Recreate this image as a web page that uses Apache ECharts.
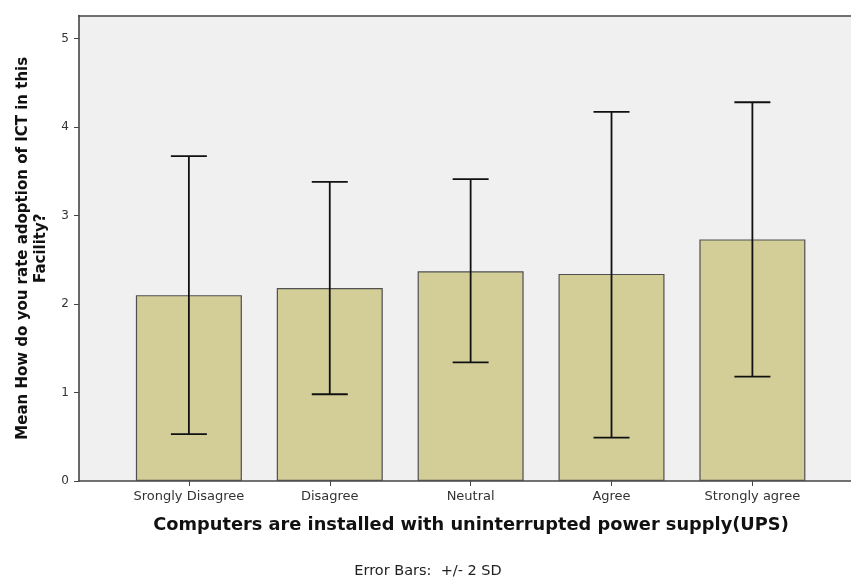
<!DOCTYPE html>
<html>
<head>
<meta charset="utf-8">
<script src="https://cdn.jsdelivr.net/npm/echarts@6/dist/echarts.min.js"></script>
<style>
html,body{margin:0;padding:0;background:#fff;}
#chart{width:851px;height:577px;}
</style>
</head>
<body>
<div id="chart"></div>
<script>
const categories = ['Srongly Disagree', 'Disagree', 'Neutral', 'Agree', 'Strongly agree'];
const means = [2.10, 2.18, 2.37, 2.34, 2.73];
const lowerBars = [0.53, 0.98, 1.34, 0.49, 1.18];
const upperBars = [3.67, 3.38, 3.41, 4.17, 4.28];
const yTicks = [0, 1, 2, 3, 4, 5];
const xPositions = [1, 2, 3, 4, 5];

const barData = xPositions.map((p, i) => [p, means[i]]);
const errData = xPositions.map((p, i) => [p, lowerBars[i], upperBars[i]]);

const chart = echarts.init(document.getElementById('chart'), null, {renderer: 'canvas'});
const axisColor = '#454545';
const fontFam = '"DejaVu Sans", Verdana, sans-serif';

chart.setOption({
  animation: false,
  backgroundColor: '#ffffff',
  grid: {
    left: 79, right: 0, top: 15.5, bottom: 96,
    show: true, backgroundColor: '#f0f0f0', borderWidth: 0
  },
  xAxis: [{
    type: 'value',
    min: 0.22, max: 5.7,
    name: 'Computers are installed with uninterrupted power supply(UPS)',
    nameLocation: 'middle',
    nameGap: 35,
    nameTextStyle: {fontFamily: fontFam, fontSize: 17.8, fontWeight: 'bold', color: '#111', padding: [0, 0, 0, 12]},
    axisLine: {show: true, lineStyle: {color: axisColor, width: 1.6}},
    axisTick: {show: true, length: 5, customValues: xPositions, lineStyle: {color: axisColor, width: 1}},
    axisLabel: {
      customValues: xPositions,
      margin: 9,
      fontFamily: fontFam, fontSize: 13, color: '#333',
      formatter: v => categories[Math.round(v) - 1] || ''
    },
    splitLine: {show: false}
  }, {
    type: 'value',
    position: 'top',
    min: 0.22, max: 5.7,
    axisLine: {show: true, onZero: false, lineStyle: {color: axisColor, width: 1.6}},
    axisTick: {show: false},
    axisLabel: {show: false},
    splitLine: {show: false}
  }],
  yAxis: {
    type: 'value',
    min: 0, max: 5.26,
    name: 'Mean How do you rate adoption of ICT in this\nFacility?',
    nameLocation: 'middle',
    nameGap: 29,
    nameTextStyle: {fontFamily: fontFam, fontSize: 15, fontWeight: 'bold', color: '#111', lineHeight: 18, align: 'center'},
    axisLine: {show: true, lineStyle: {color: axisColor, width: 1.6}},
    axisTick: {show: true, length: 5, customValues: yTicks, lineStyle: {color: axisColor, width: 1}},
    axisLabel: {customValues: yTicks, margin: 10, fontFamily: fontFam, fontSize: 12, color: '#333'},
    splitLine: {show: false}
  },
  series: [{
    type: 'bar',
    data: barData,
    barWidth: 106,
    itemStyle: {color: '#d3ce98', borderColor: '#505050', borderWidth: 1.2},
    z: 2
  }, {
    type: 'custom',
    data: errData,
    z: 3,
    renderItem: function (params, api) {
      const x = api.value(0);
      const lo = api.coord([x, api.value(1)]);
      const hi = api.coord([x, api.value(2)]);
      const half = 18;
      const style = {stroke: '#111', lineWidth: 1.8};
      return {
        type: 'group',
        children: [
          {type: 'line', shape: {x1: lo[0], y1: lo[1], x2: hi[0], y2: hi[1]}, style: style},
          {type: 'line', shape: {x1: hi[0] - half, y1: hi[1], x2: hi[0] + half, y2: hi[1]}, style: style},
          {type: 'line', shape: {x1: lo[0] - half, y1: lo[1], x2: lo[0] + half, y2: lo[1]}, style: style}
        ]
      };
    }
  }],
  graphic: [{
    type: 'text',
    x: 428, y: 571,
    style: {text: 'Error Bars:  +/- 2 SD', fontFamily: fontFam, fontSize: 14.5, fill: '#222', textAlign: 'center', textVerticalAlign: 'middle'}
  }]
});
</script>
</body>
</html>
